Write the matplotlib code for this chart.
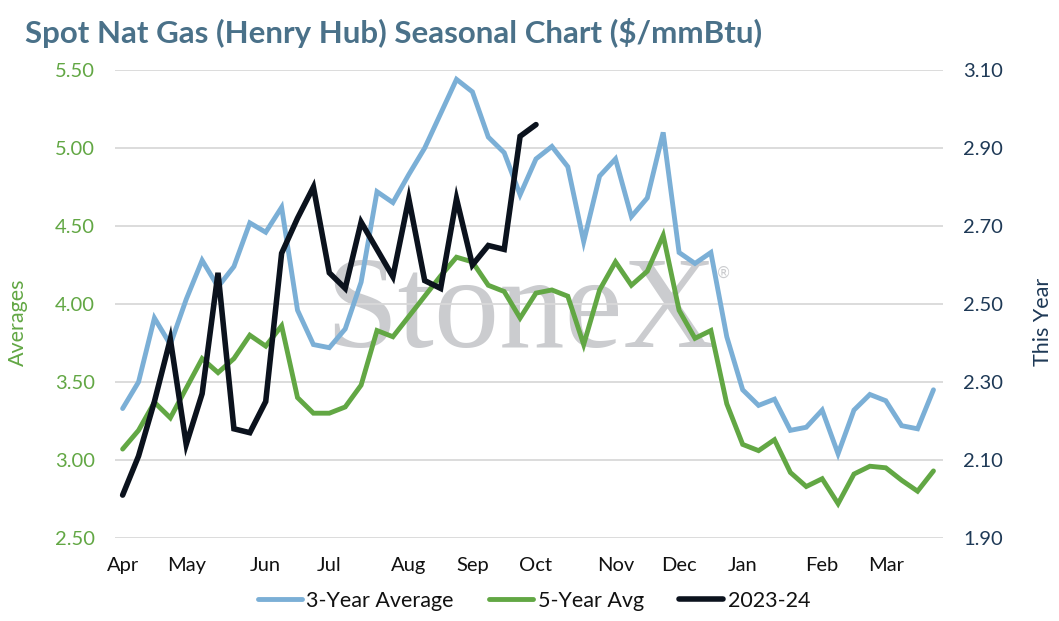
import matplotlib
matplotlib.use("Agg")
import matplotlib.pyplot as plt
import numpy as np

plt.rcParams['font.family'] = ['Lato', 'DejaVu Sans']

# ---- data (weekly, April -> March) ----
three_year_avg = [3.33, 3.50, 3.91, 3.74, 4.03, 4.28, 4.11, 4.24, 4.52, 4.46,
                  4.62, 3.96, 3.74, 3.72, 3.84, 4.14, 4.72, 4.65, 4.83, 5.00,
                  5.22, 5.44, 5.36, 5.07, 4.97, 4.70, 4.93, 5.01, 4.88, 4.40,
                  4.82, 4.93, 4.56, 4.68, 5.10, 4.33, 4.26, 4.33, 3.79, 3.45,
                  3.35, 3.39, 3.19, 3.21, 3.32, 3.04, 3.32, 3.42, 3.38, 3.22,
                  3.20, 3.45]
five_year_avg = [3.07, 3.19, 3.37, 3.27, 3.46, 3.65, 3.56, 3.65, 3.80, 3.73,
                 3.86, 3.40, 3.30, 3.30, 3.34, 3.48, 3.83, 3.79, 3.92, 4.05,
                 4.18, 4.30, 4.27, 4.12, 4.08, 3.91, 4.07, 4.09, 4.05, 3.74,
                 4.09, 4.27, 4.12, 4.21, 4.44, 3.96, 3.78, 3.83, 3.36, 3.10,
                 3.06, 3.13, 2.92, 2.83, 2.88, 2.72, 2.91, 2.96, 2.95, 2.87,
                 2.80, 2.93]
this_year = [2.01, 2.11, 2.25, 2.41, 2.14, 2.27, 2.58, 2.18, 2.17, 2.25,
             2.63, 2.72, 2.80, 2.58, 2.54, 2.71, 2.64, 2.57, 2.77, 2.56,
             2.54, 2.77, 2.60, 2.65, 2.64, 2.93, 2.96]
month_labels = ['Apr', 'May', 'Jun', 'Jul', 'Aug', 'Sep', 'Oct', 'Nov', 'Dec',
                'Jan', 'Feb', 'Mar']
month_week_idx = [0, 4, 9, 13, 18, 22, 26, 31, 35, 39, 44, 48]
left_ticks = [2.5, 3.0, 3.5, 4.0, 4.5, 5.0, 5.5]
right_ticks = [1.9, 2.1, 2.3, 2.5, 2.7, 2.9, 3.1]

BLUE = '#7BAFD6'
GREEN = '#62A744'
BLACK = '#0B121D'
TITLE = '#4A7189'
NAVY = '#1E3956'
GRID = '#D9D9D9'

fig = plt.figure(figsize=(10.59, 6.21), dpi=100)
ax = fig.add_axes([115/1059, 1-538/621, (943-115)/1059, (538-70)/621])
ax2 = ax.twinx()

x3 = np.arange(len(three_year_avg))
x5 = np.arange(len(five_year_avg))
xt = np.arange(len(this_year))

ax.set_ylim(2.5, 5.5)
ax2.set_ylim(1.9, 3.1)
ax.set_xlim(-0.48, 51.6)
ax.set_yticks(left_ticks)
ax.set_yticklabels([f'{v:.2f}' for v in left_ticks])
ax2.set_yticks(right_ticks)
ax2.set_yticklabels([f'{v:.2f}' for v in right_ticks])
ax.grid(axis='y', color=GRID, linewidth=1.3)
ax.set_axisbelow(True)

# watermark
ax.text(0.49, (538-347)/468, 'StoneX', transform=ax.transAxes, ha='center',
        va='baseline', fontsize=94, color='#CBCCCF', family='Liberation Serif',
        zorder=0)
ax.text((724-115)/828, (538-273)/468, '®', transform=ax.transAxes, ha='center',
        va='center', fontsize=11, color='#CBCCCF', family='DejaVu Sans', zorder=0)

l1, = ax.plot(x3, three_year_avg, color=BLUE, lw=3.5, solid_capstyle='round',
              solid_joinstyle='miter', label='3-Year Average', zorder=3)
l2, = ax.plot(x5, five_year_avg, color=GREEN, lw=3.5, solid_capstyle='round',
              solid_joinstyle='miter', label='5-Year Avg', zorder=3)
l3, = ax2.plot(xt, this_year, color=BLACK, lw=4.0, solid_capstyle='round',
               solid_joinstyle='miter', label='2023-24', zorder=4)

ax.set_xticks(month_week_idx)
ax.set_xticklabels(month_labels)

for a in (ax, ax2):
    for s in a.spines.values():
        s.set_visible(False)
ax.tick_params(axis='x', length=0, pad=14, labelsize=14.5, labelcolor='#111111')
ax.tick_params(axis='y', length=0, pad=14.5, labelsize=14.5, labelcolor=GREEN)
ax2.tick_params(axis='y', length=0, pad=14.5, labelsize=14.5, labelcolor=NAVY)

fig.text(18/1059, 1-322/621, 'Averages', rotation=90, ha='center', va='center',
         fontsize=15.5, color=GREEN)
fig.text(1043/1059, 1-322/621, 'This Year', rotation=90, ha='center', va='center',
         fontsize=15.5, color=NAVY)

fig.text(25/1059, 1-33/621, 'Spot Nat Gas (Henry Hub) Seasonal Chart ($/mmBtu)',
         ha='left', va='center', fontsize=22.5, fontweight='bold', color=TITLE)

leg = fig.legend(handles=[l1, l2, l3], loc='center', ncol=3,
                 bbox_to_anchor=(534/1059, 1-601/621), frameon=False,
                 fontsize=15.5, handlelength=2.05, handletextpad=0.2,
                 columnspacing=1.65)
for t in leg.get_texts():
    t.set_color('#111111')

fig.savefig('out.png', dpi=100)
